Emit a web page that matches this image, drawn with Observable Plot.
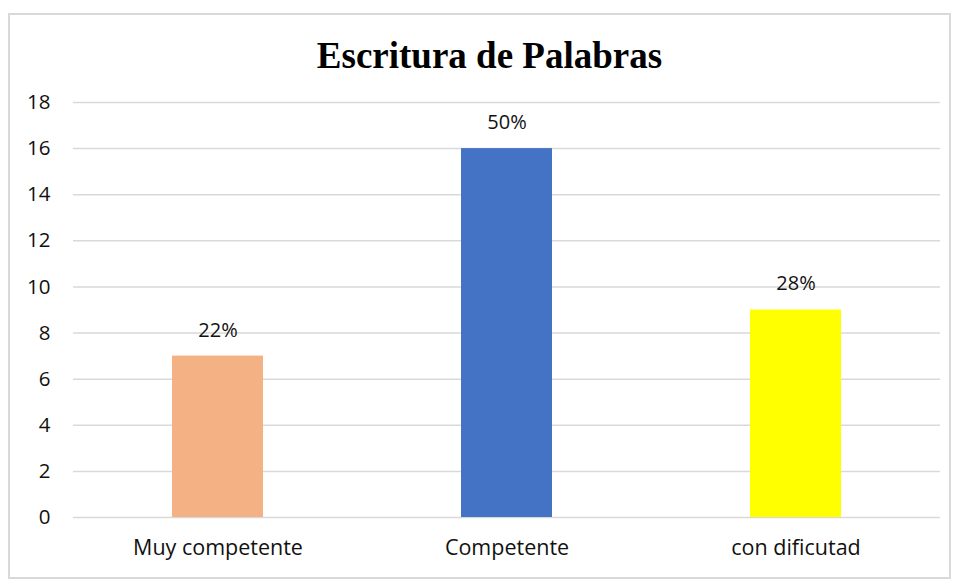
<!DOCTYPE html>
<html>
<head>
<meta charset="utf-8">
<script src="https://cdn.jsdelivr.net/npm/d3@7"></script>
<script src="https://cdn.jsdelivr.net/npm/@observablehq/plot@0.6"></script>
<style>
  html, body { margin: 0; padding: 0; background: #fff; }
  #frame { position: absolute; left: 8px; top: 13px; width: 943px; height: 566px; border: 2px solid #d9d9d9; box-sizing: border-box; }
  #title { position: absolute; left: 0; top: 37px; width: 979px; text-align: center; font-family: "Liberation Serif", "Times New Roman", serif; font-weight: bold; font-size: 37px; color: #000; margin: 0; line-height: 1; }
  #chart { position: absolute; left: 0; top: 0; }
</style>
</head>
<body>
<div id="frame"></div>
<h2 id="title">Escritura de Palabras</h2>
<div id="chart"></div>
<script>
const categories = ["Muy competente", "Competente", "con dificutad"];
const values = [7, 16, 9];
const percentLabels = ["22%", "50%", "28%"];
const colors = ["#F4B183", "#4472C4", "#FFFF00"];
const yTicks = [0, 2, 4, 6, 8, 10, 12, 14, 16, 18];

const data = categories.map((c, i) => ({category: c, value: values[i], label: percentLabels[i], color: colors[i]}));

const chart = Plot.plot({
  width: 955,
  height: 582,
  marginLeft: 73,
  marginRight: 15,
  marginTop: 102,
  marginBottom: 65,
  style: {fontFamily: "'Open Sans', sans-serif", fontSize: "20px", color: "#111", background: "transparent"},
  x: {domain: categories, paddingInner: 0.685, paddingOuter: 0.3425, label: null},
  y: {domain: [0, 18], label: null},
  marks: [
    Plot.gridY(yTicks, {stroke: "#d9d9d9", strokeOpacity: 1, strokeWidth: 1.5}),
    Plot.barY(data, {x: "category", y: "value", fill: "color"}),
    Plot.text(data, {x: "category", y: "value", text: "label", dy: -26, fontSize: 20, fill: "#111"}),
    Plot.axisY(yTicks, {tickSize: 0, tickPadding: 23, fontSize: 20.5, label: null}),
    Plot.axisX({tickSize: 0, tickPadding: 22, fontSize: 21.5, label: null})
  ]
});
document.getElementById("chart").appendChild(chart);
</script>
</body>
</html>
